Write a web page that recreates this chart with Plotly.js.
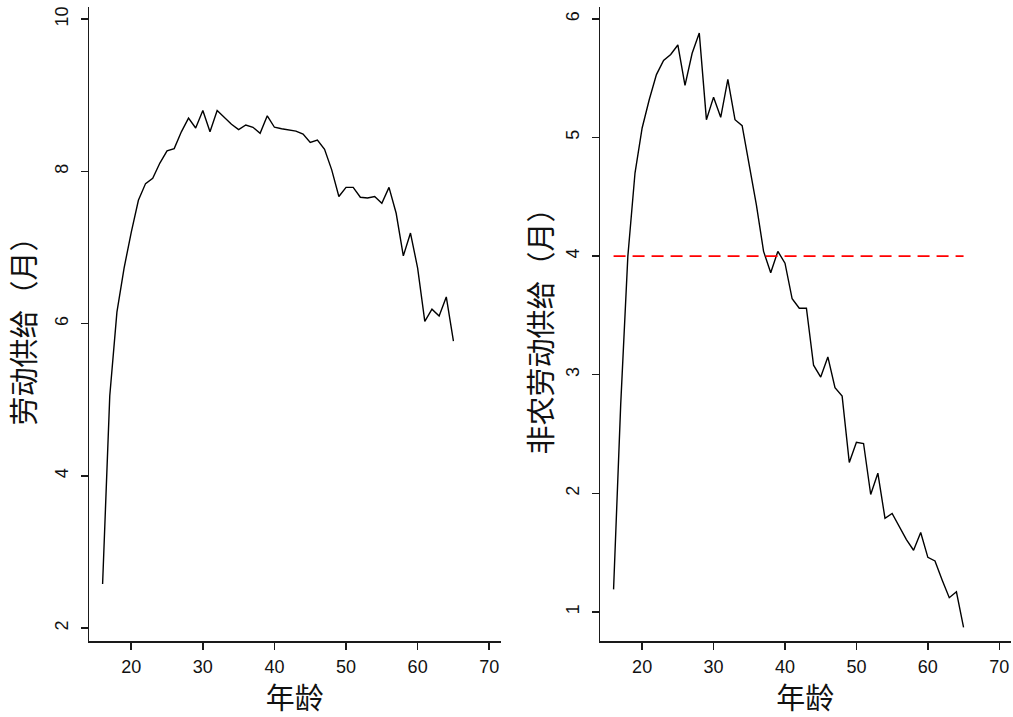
<!DOCTYPE html>
<html>
<head>
<meta charset="utf-8">
<script src="https://cdn.plot.ly/plotly-3.0.1.min.js"></script>
<style>
  html, body { margin: 0; padding: 0; background: #ffffff; }
  #chart { width: 1013px; height: 717px; }
</style>
</head>
<body>
<div id="chart"></div>
<script>
// ---- data ----
const ages = [16, 17, 18, 19, 20, 21, 22, 23, 24, 25,
              26, 27, 28, 29, 30, 31, 32, 33, 34, 35,
              36, 37, 38, 39, 40, 41, 42, 43, 44, 45,
              46, 47, 48, 49, 50, 51, 52, 53, 54, 55,
              56, 57, 58, 59, 60, 61, 62, 63, 64, 65];

// 劳动供给（月）
const laborSupply = [2.58, 5.05, 6.15, 6.73, 7.20, 7.62, 7.84, 7.91, 8.11, 8.27,
                     8.30, 8.52, 8.70, 8.57, 8.80, 8.52, 8.80, 8.71, 8.62, 8.55,
                     8.61, 8.58, 8.50, 8.73, 8.58, 8.56, 8.54, 8.53, 8.49, 8.38,
                     8.41, 8.29, 8.02, 7.67, 7.79, 7.79, 7.66, 7.65, 7.67, 7.58,
                     7.79, 7.45, 6.89, 7.19, 6.73, 6.03, 6.19, 6.10, 6.35, 5.77];

// 非农劳动供给（月）
const nonFarmSupply = [1.19, 2.75, 4.00, 4.70, 5.08, 5.32, 5.53, 5.65, 5.70, 5.78,
                       5.44, 5.71, 5.88, 5.15, 5.34, 5.17, 5.49, 5.15, 5.10, 4.77,
                       4.43, 4.04, 3.86, 4.04, 3.94, 3.64, 3.56, 3.56, 3.08, 2.98,
                       3.15, 2.89, 2.82, 2.26, 2.43, 2.42, 1.99, 2.17, 1.79, 1.83,
                       1.72, 1.61, 1.52, 1.67, 1.46, 1.43, 1.27, 1.12, 1.17, 0.87];

// reference line in the right panel
const refLineX = [16, 65];
const refLineY = [4, 4];

const xTicks = [20, 30, 40, 50, 60, 70];
const yTicksLeft = [2, 4, 6, 8, 10];
const yTicksRight = [1, 2, 3, 4, 5, 6];

const xTitle = '年龄';
const yTitleLeft = '劳动供给（月）';
const yTitleRight = '非农劳动供给（月）';

// ---- figure ----
const W = 1013, H = 717;
const tickFont = { family: 'Liberation Sans, Arial, sans-serif', size: 18, color: '#111111' };
const titleFont = { family: 'Noto Sans CJK SC, sans-serif', size: 29, color: '#111111' };

const traces = [
  { x: ages, y: laborSupply, xaxis: 'x', yaxis: 'y', type: 'scatter', mode: 'lines',
    line: { color: '#000000', width: 1.4 }, hoverinfo: 'x+y' },
  { x: ages, y: nonFarmSupply, xaxis: 'x2', yaxis: 'y2', type: 'scatter', mode: 'lines',
    line: { color: '#000000', width: 1.4 }, hoverinfo: 'x+y' },
  { x: refLineX, y: refLineY, xaxis: 'x2', yaxis: 'y2', type: 'scatter', mode: 'lines',
    line: { color: '#ff0000', width: 1.6, dash: '12px,7px' }, hoverinfo: 'skip' }
];

const yDom = [1 - 641 / H, 1 - 7 / H];

function xAxis(domain) {
  return {
    domain: domain, range: [14.1, 71.6], tickmode: 'array', tickvals: xTicks,
    showline: true, linecolor: '#1a1a1a', linewidth: 1.5,
    ticks: 'outside', ticklen: 7, tickwidth: 1.5, tickcolor: '#1a1a1a',
    ticklabelstandoff: 2,
    showgrid: false, zeroline: false, tickfont: tickFont,
    title: { text: xTitle, font: titleFont, standoff: 11 },
    automargin: false, fixedrange: true
  };
}
function yAxis(anchor, range, ticks, title, standoff) {
  return {
    domain: yDom, anchor: anchor, range: range, tickmode: 'array', tickvals: ticks,
    tickangle: -90,
    showline: true, linecolor: '#1a1a1a', linewidth: 1.5,
    ticks: 'outside', ticklen: 7, tickwidth: 1.5, tickcolor: '#1a1a1a',
    ticklabelstandoff: 5,
    showgrid: false, zeroline: false, tickfont: tickFont,
    title: { text: title, font: titleFont, standoff: standoff },
    automargin: false, fixedrange: true
  };
}

const layout = {
  width: W, height: H,
  margin: { l: 0, r: 0, t: 0, b: 0, pad: 0 },
  paper_bgcolor: '#ffffff', plot_bgcolor: '#ffffff',
  showlegend: false,
  xaxis: Object.assign(xAxis([89 / W, 500.7 / W]), { anchor: 'y' }),
  yaxis: yAxis('x', [1.83, 10.16], yTicksLeft, yTitleLeft, 8),
  xaxis2: Object.assign(xAxis([600 / W, 1010.7 / W]), { anchor: 'y2' }),
  yaxis2: yAxis('x2', [0.755, 6.10], yTicksRight, yTitleRight, 2)
};

Plotly.newPlot('chart', traces, layout, { displayModeBar: false, staticPlot: true });
</script>
</body>
</html>
